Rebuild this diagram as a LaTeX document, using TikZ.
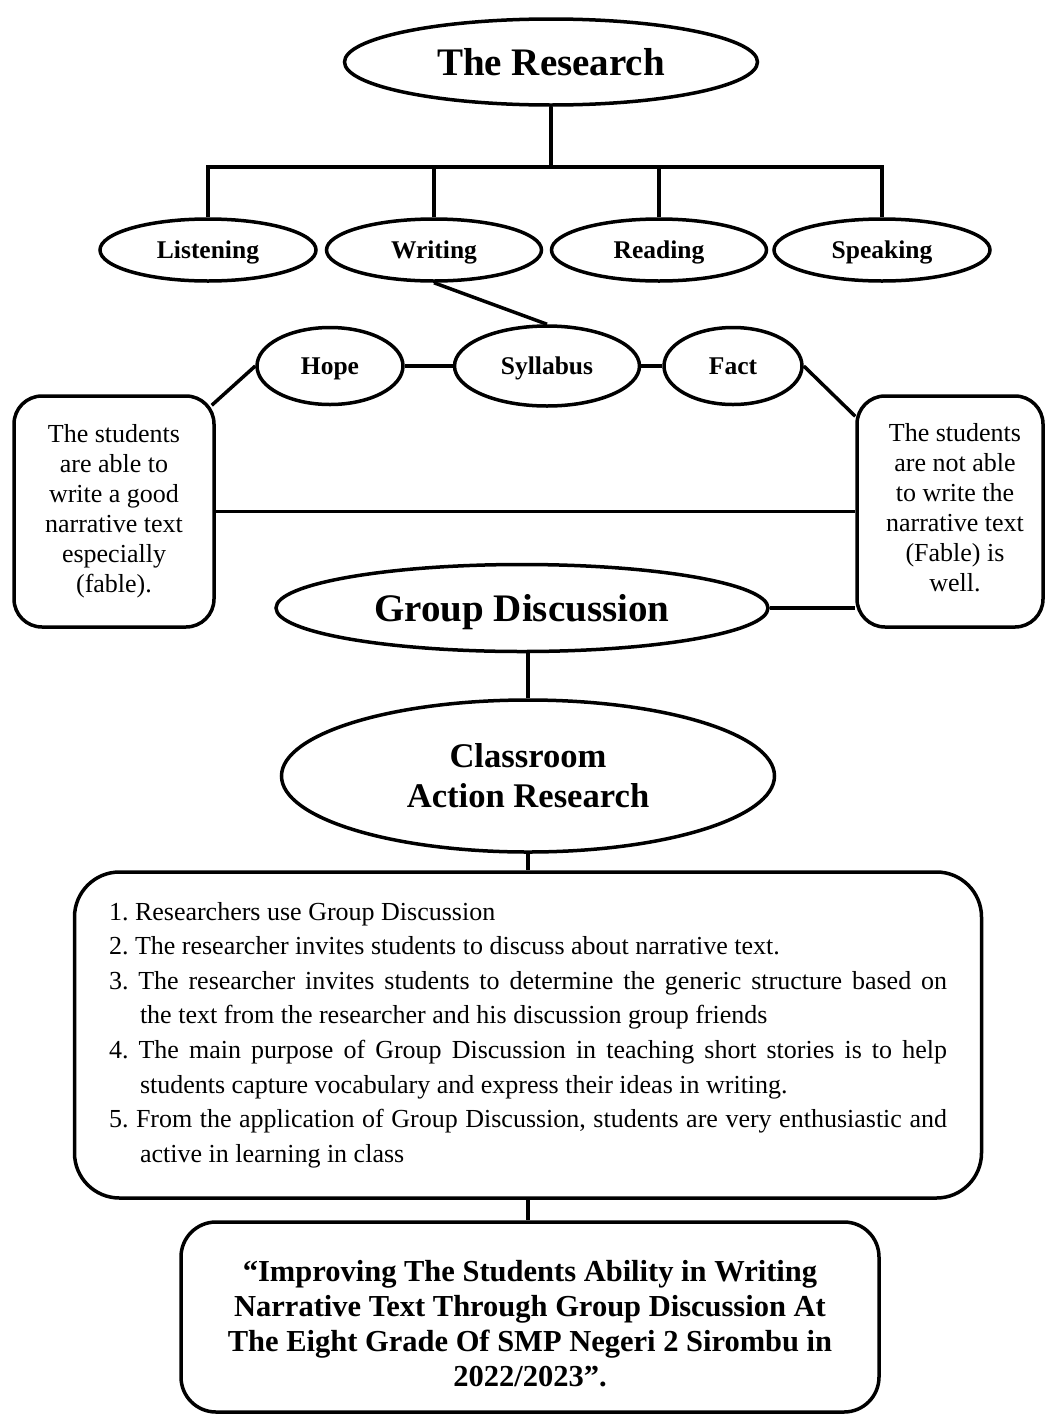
\documentclass[tikz,border=0pt]{standalone}
\usepackage{fontspec}
\setmainfont{Liberation Serif}
\usetikzlibrary{shapes.geometric,backgrounds,calc}
\begin{document}
\begin{tikzpicture}[x=1pt,y=-1pt,
  conn/.style={line width=3.5pt},
  oval/.style={ellipse,draw,line width=3.5pt,fill=white,inner sep=0pt,font=\bfseries\fontsize{25.5}{30}\selectfont},
  capc/.style={text height=#1,text depth=0pt},
  capc/.default=17pt,
  rbox/.style={draw,line width=3.5pt,fill=white,rounded corners=#1,inner sep=0pt},
  bigtitle/.style={font=\bfseries\fontsize{39}{44}\selectfont}]
\useasboundingbox (0,0) rectangle (1046,1414);
% top level
\node[oval,bigtitle,capc=26pt,minimum width=413pt,minimum height=86pt] (res) at (551,62) {The Research};
\node[oval,capc,minimum width=216pt,minimum height=62pt] (lis) at (208,250) {Listening};
\node[oval,capc,minimum width=215pt,minimum height=62pt] (wri) at (434,250) {Writing};
\node[oval,capc,minimum width=215pt,minimum height=62pt] (rea) at (659,250) {Reading};
\node[oval,capc,minimum width=216pt,minimum height=62pt] (spe) at (882,250) {Speaking};
% second level
\node[oval,capc,minimum width=146pt,minimum height=77pt] (hope) at (330,366) {Hope};
\node[oval,capc,minimum width=185pt,minimum height=80pt] (syl) at (547,366) {Syllabus};
\node[oval,capc,minimum width=138pt,minimum height=77pt] (fact) at (733,366) {Fact};
% side boxes
\node[rbox=28pt,minimum width=200pt,minimum height=231pt,align=center,
      font=\fontsize{26}{30}\selectfont] (lb) at (114,511.5)
  {The students\\are able to\\write a good\\narrative text\\especially\\(fable).};
\node[rbox=28pt,minimum width=186pt,minimum height=231pt,align=center,
      font=\fontsize{26}{30}\selectfont] (rb) at (950,511.5)
  {\hspace*{10pt}The students\\\hspace*{10pt}are not able\\\hspace*{10pt}to write the\\\hspace*{10pt}narrative text\\\hspace*{10pt}(Fable) is\\\hspace*{10pt}well.\vspace*{8pt}};
% middle
\node[oval,bigtitle,capc=26pt,minimum width=492pt,minimum height=87pt] (gd) at (522,608) {Group Discussion};
\node[oval,minimum width=493pt,minimum height=152pt,align=center,
      font=\bfseries\fontsize{34.6}{40}\selectfont] (car) at (528,776) {Classroom\\Action Research};
% list box
\node[rbox=45pt,minimum width=907pt,minimum height=326pt,text width=838pt,inner xsep=34.5pt,
      align=justify,font=\fontsize{26}{34.6}\selectfont] (lst) at (528,1035)
  {\parindent=0pt\frenchspacing
   \hangindent=31pt\hangafter=1 1. Researchers use Group Discussion\par
   \hangindent=31pt\hangafter=1 2. The researcher invites students to discuss about narrative text.\par
   \hangindent=31pt\hangafter=1 3. The researcher invites students to determine the generic structure based on\linebreak the text from the researcher and his discussion group friends\par
   \hangindent=31pt\hangafter=1 4. The main purpose of Group Discussion in teaching short stories is to help\linebreak students capture vocabulary and express their ideas in writing.\par
   \hangindent=31pt\hangafter=1 5. From the application of Group Discussion, students are very enthusiastic and\linebreak active in learning in class\par};
% final box
\node[rbox=35pt,minimum width=698pt,minimum height=190pt,align=center,
      font=\bfseries\fontsize{30.5}{35}\selectfont] (fin) at (530,1317)
  {\rule{0pt}{34pt}“Improving The Students Ability in Writing\\Narrative Text Through Group Discussion At\\The Eight Grade Of SMP Negeri 2 Sirombu in\\2022/2023”.};
% connectors
\begin{scope}[on background layer]
\coordinate (j) at (551,167);
\draw[conn] (res.south) -- (j);
\draw[conn] (lis.north) -- (lis.north |- j) -- (spe.north |- j) -- (spe.north);
\draw[conn] (wri.north) -- (wri.north |- j);
\draw[conn] (rea.north) -- (rea.north |- j);
\draw[conn] (wri.south) -- (syl.north);
\draw[conn] (hope.east) -- (syl.west);
\draw[conn] (syl.east) -- (fact.west);
\draw[conn] (hope.west) -- ([xshift=-4pt,yshift=-11pt]lb.north east);
\draw[conn] (fact.east) -- ([yshift=-22pt]rb.north west);
\draw[conn] (lb.east) -- (rb.west);
\draw[conn] (gd.east) -- (gd.east -| rb.west);
\draw[conn] (car.north) -- (car.north |- gd.south);
\draw[conn] (car.south) -- (lst.north);
\draw[conn] (lst.south) -- (lst.south |- fin.north);
\end{scope}
\end{tikzpicture}
\end{document}
